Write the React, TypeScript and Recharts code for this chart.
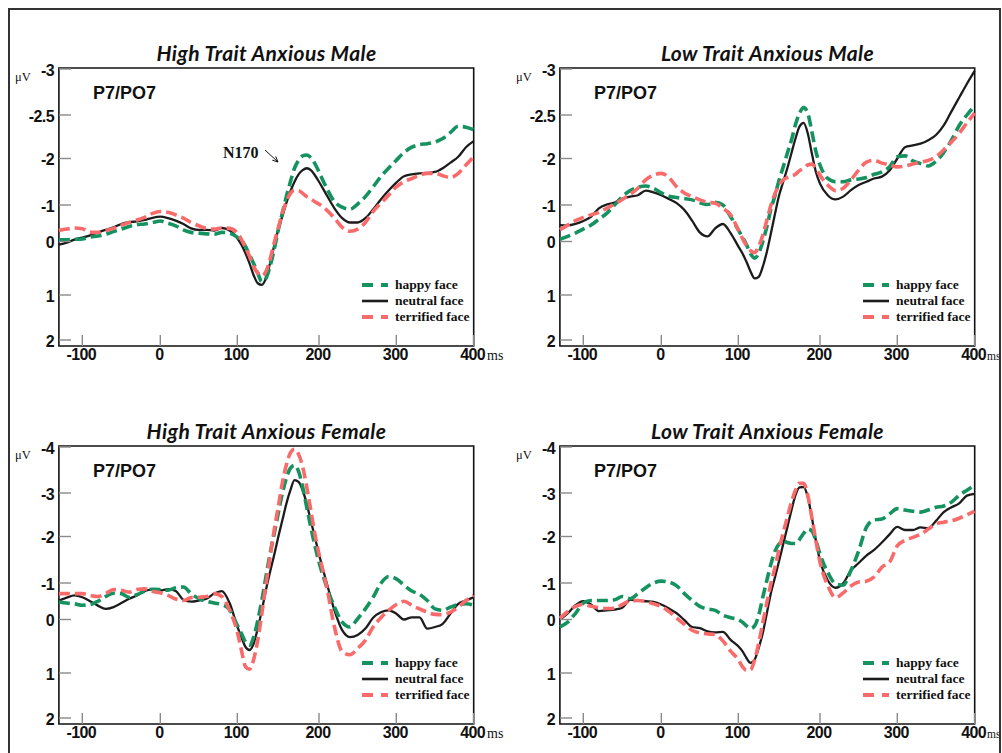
import React from 'react';
import { LineChart, Line, XAxis, YAxis, Legend, ReferenceArea } from 'recharts';

// ---------- data ----------
const TIMES = [
  -130, -120, -110, -100, -90, -80, -70, -60, -50, -40, -30, -20, -10, 0, 10, 20, 30, 40, 50, 60, 70, 80, 90, 100,
  105, 110, 115, 120, 125, 130, 135, 140, 145, 150, 155, 160, 165, 170, 175, 180, 185, 190, 195,
  200, 210, 220, 230, 240, 250, 260, 270, 280, 290, 300, 310, 320, 330, 340, 350, 360, 370, 380, 390, 400,
];
const X_TICKS = [-100, 0, 100, 200, 300, 400];
const Y_TICKS_MALE = [-3, -2.5, -2, -1, 0, 1, 2];
const Y_TICKS_FEMALE = [-4, -3, -2, -1, 0, 1, 2];

const HIGH_MALE_HAPPY = [
  -0.05, -0.05, -0.06, -0.07, -0.12, -0.15, -0.2, -0.27, -0.34, -0.41, -0.46, -0.48, -0.52, -0.56, -0.5, -0.43, -0.32, -0.25, -0.23, -0.21, -0.2, -0.25, -0.23, -0.12,
  -0.03, 0.09, 0.25, 0.41, 0.59, 0.75, 0.69, 0.47, 0.16, -0.3, -0.77, -1.18, -1.5, -1.79, -1.96, -2.03, -2.04, -2.01, -1.89,
  -1.71, -1.36, -1.07, -0.94, -0.88, -1.02, -1.18, -1.39, -1.61, -1.79, -1.96, -2.07, -2.13, -2.16, -2.17, -2.19, -2.23, -2.3, -2.37, -2.36, -2.33,
];
const HIGH_MALE_NEUTRAL = [
  0.06, 0.02, -0.05, -0.11, -0.17, -0.25, -0.32, -0.39, -0.48, -0.53, -0.55, -0.59, -0.65, -0.68, -0.64, -0.57, -0.48, -0.36, -0.32, -0.32, -0.3, -0.37, -0.3, -0.09,
  0.06, 0.22, 0.41, 0.63, 0.78, 0.81, 0.69, 0.41, 0.09, -0.32, -0.68, -1.04, -1.29, -1.5, -1.66, -1.75, -1.79, -1.75, -1.64,
  -1.5, -1.21, -0.91, -0.64, -0.52, -0.52, -0.64, -0.88, -1.12, -1.31, -1.48, -1.62, -1.66, -1.68, -1.69, -1.71, -1.79, -1.91, -2.02, -2.13, -2.2,
];
const HIGH_MALE_TERRIFIED = [
  -0.3, -0.34, -0.37, -0.35, -0.25, -0.25, -0.3, -0.36, -0.45, -0.52, -0.59, -0.66, -0.77, -0.82, -0.8, -0.73, -0.64, -0.52, -0.43, -0.36, -0.34, -0.37, -0.36, -0.23,
  -0.06, 0.11, 0.28, 0.47, 0.59, 0.64, 0.56, 0.34, 0.03, -0.36, -0.77, -1.07, -1.25, -1.32, -1.31, -1.25, -1.18, -1.13, -1.07,
  -1.02, -0.86, -0.64, -0.39, -0.28, -0.34, -0.52, -0.82, -1.04, -1.21, -1.39, -1.5, -1.57, -1.64, -1.68, -1.68, -1.63, -1.59, -1.68, -1.86, -2.02,
];

const LOW_MALE_HAPPY = [
  -0.06, -0.14, -0.23, -0.34, -0.45, -0.61, -0.77, -1.0, -1.18, -1.31, -1.38, -1.41, -1.36, -1.26, -1.19, -1.16, -1.14, -1.11, -1.05, -1.01, -1.06, -1.0, -0.68, -0.32,
  -0.12, 0.06, 0.23, 0.31, 0.22, 0.0, -0.41, -0.89, -1.21, -1.54, -1.82, -2.06, -2.21, -2.39, -2.52, -2.58, -2.52, -2.31, -2.08,
  -1.86, -1.57, -1.5, -1.5, -1.54, -1.56, -1.59, -1.66, -1.71, -1.82, -2.02, -2.03, -1.95, -1.89, -1.84, -1.94, -2.07, -2.21, -2.38, -2.5, -2.6,
];
const LOW_MALE_NEUTRAL = [
  -0.45, -0.44, -0.48, -0.56, -0.68, -0.91, -1.01, -1.05, -1.14, -1.18, -1.21, -1.31, -1.27, -1.21, -1.13, -1.04, -0.86, -0.57, -0.25, -0.14, -0.36, -0.48, -0.23, 0.09,
  0.22, 0.38, 0.56, 0.69, 0.66, 0.47, 0.19, -0.23, -0.77, -1.21, -1.5, -1.79, -2.06, -2.23, -2.37, -2.41, -2.29, -2.06, -1.71,
  -1.46, -1.21, -1.12, -1.18, -1.32, -1.43, -1.5, -1.57, -1.61, -1.74, -2.0, -2.13, -2.15, -2.17, -2.21, -2.27, -2.38, -2.54, -2.69, -2.84, -2.98,
];
const LOW_MALE_TERRIFIED = [
  -0.32, -0.45, -0.57, -0.66, -0.73, -0.8, -0.91, -1.02, -1.12, -1.23, -1.36, -1.54, -1.64, -1.68, -1.59, -1.39, -1.26, -1.18, -1.11, -1.06, -1.04, -0.91, -0.73, -0.32,
  -0.09, 0.08, 0.17, 0.21, 0.09, -0.18, -0.59, -1.0, -1.25, -1.43, -1.54, -1.59, -1.62, -1.66, -1.74, -1.79, -1.86, -1.88, -1.79,
  -1.64, -1.43, -1.31, -1.36, -1.54, -1.75, -1.92, -1.96, -1.9, -1.86, -1.82, -1.84, -1.88, -1.92, -1.96, -2.02, -2.1, -2.19, -2.29, -2.41, -2.52,
];

const HIGH_FEMALE_HAPPY = [
  -0.48, -0.45, -0.43, -0.39, -0.41, -0.5, -0.63, -0.72, -0.71, -0.61, -0.68, -0.78, -0.83, -0.82, -0.8, -0.87, -0.89, -0.71, -0.57, -0.5, -0.45, -0.41, -0.27, 0.11,
  0.26, 0.42, 0.48, 0.33, 0.02, -0.52, -1.13, -1.62, -2.05, -2.52, -2.98, -3.32, -3.54, -3.6, -3.47, -3.13, -2.67, -2.21, -1.8,
  -1.45, -0.89, -0.34, 0.05, 0.14, -0.02, -0.29, -0.61, -0.99, -1.14, -1.09, -0.94, -0.78, -0.69, -0.52, -0.29, -0.25, -0.34, -0.41, -0.43, -0.39,
];
const HIGH_FEMALE_NEUTRAL = [
  -0.52, -0.6, -0.66, -0.61, -0.5, -0.38, -0.29, -0.34, -0.45, -0.57, -0.66, -0.78, -0.82, -0.8, -0.83, -0.78, -0.54, -0.49, -0.52, -0.57, -0.71, -0.78, -0.45, 0.13,
  0.33, 0.51, 0.57, 0.45, 0.17, -0.25, -0.8, -1.23, -1.59, -1.98, -2.36, -2.75, -3.06, -3.28, -3.24, -3.06, -2.75, -2.36, -1.98,
  -1.62, -1.0, -0.25, 0.2, 0.33, 0.29, 0.17, -0.05, -0.2, -0.25, -0.16, 0.0, -0.06, -0.06, 0.17, 0.14, 0.08, -0.16, -0.43, -0.52, -0.61,
];
const HIGH_FEMALE_TERRIFIED = [
  -0.71, -0.71, -0.71, -0.71, -0.66, -0.63, -0.71, -0.82, -0.8, -0.75, -0.82, -0.84, -0.77, -0.73, -0.66, -0.56, -0.52, -0.6, -0.61, -0.63, -0.71, -0.63, -0.25, 0.23,
  0.57, 0.88, 0.93, 0.75, 0.39, -0.16, -0.94, -1.55, -2.13, -2.67, -3.21, -3.61, -3.87, -3.95, -3.84, -3.57, -3.13, -2.6, -2.05,
  -1.62, -0.89, 0.14, 0.6, 0.66, 0.54, 0.39, 0.14, -0.05, -0.25, -0.41, -0.5, -0.39, -0.29, -0.2, -0.14, -0.13, -0.2, -0.34, -0.52, -0.66,
];

const LOW_FEMALE_HAPPY = [
  0.14, 0.05, -0.17, -0.45, -0.52, -0.52, -0.52, -0.54, -0.63, -0.57, -0.71, -0.87, -1.0, -1.04, -1.02, -0.92, -0.71, -0.52, -0.36, -0.29, -0.25, -0.12, -0.05, 0.0,
  0.05, 0.12, 0.17, 0.12, -0.12, -0.61, -1.06, -1.41, -1.69, -1.84, -1.91, -1.87, -1.85, -1.85, -1.94, -2.07, -2.17, -2.13, -1.91,
  -1.62, -1.23, -0.98, -0.94, -1.27, -1.69, -2.21, -2.38, -2.4, -2.52, -2.64, -2.61, -2.58, -2.56, -2.61, -2.67, -2.7, -2.79, -2.95, -3.06, -3.17,
];
const LOW_FEMALE_NEUTRAL = [
  0.0, -0.17, -0.39, -0.5, -0.41, -0.23, -0.25, -0.27, -0.32, -0.54, -0.52, -0.5, -0.48, -0.41, -0.3, -0.17, 0.01, 0.14, 0.16, 0.22, 0.24, 0.23, 0.38, 0.5,
  0.59, 0.72, 0.81, 0.75, 0.53, 0.25, -0.18, -0.73, -1.13, -1.48, -1.84, -2.21, -2.6, -2.95, -3.12, -3.13, -2.91, -2.44, -1.91,
  -1.48, -1.06, -0.87, -0.99, -1.27, -1.43, -1.59, -1.71, -1.87, -2.05, -2.22, -2.15, -2.15, -2.21, -2.19, -2.36, -2.56, -2.67, -2.76, -2.94, -2.98,
];
const LOW_FEMALE_TERRIFIED = [
  -0.03, -0.22, -0.36, -0.41, -0.36, -0.32, -0.3, -0.31, -0.41, -0.51, -0.52, -0.49, -0.43, -0.36, -0.22, -0.04, 0.09, 0.2, 0.25, 0.27, 0.28, 0.4, 0.59, 0.75,
  0.88, 0.95, 0.94, 0.75, 0.44, 0.06, -0.46, -0.99, -1.34, -1.73, -2.09, -2.44, -2.79, -3.06, -3.21, -3.21, -2.95, -2.44, -1.91,
  -1.45, -0.94, -0.6, -0.73, -0.92, -1.02, -1.04, -1.13, -1.34, -1.45, -1.8, -1.92, -1.98, -2.05, -2.17, -2.29, -2.33, -2.36, -2.42, -2.5, -2.58,
];

// ---------- layout ----------
const CHART_W = 500;
const CHART_H = 377;
const PLOT_L = 59;
const PLOT_T = 68;
const PLOT_W = 415;
const PLOT_H = 278;
// pixel offsets of the printed axis ticks inside the plot (the printed axes are not evenly spaced)
const X_TICK_OFFSETS = [23.3, 101.3, 178.3, 260, 337.3, 414.7];
const Y_TICK_OFFSETS = [1, 47, 90.5, 137, 173.5, 227, 272];

const SERIES = [
  { key: 'neutral', name: 'neutral face', color: '#1c1c1c', width: 2.3, dash: undefined as string | undefined },
  { key: 'happy', name: 'happy face', color: '#14925f', width: 3.6, dash: '11 5' },
  { key: 'terrified', name: 'terrified face', color: '#f96b6b', width: 3.6, dash: '11 5' },
];
const LEGEND_ORDER = ['happy', 'neutral', 'terrified'];

// piecewise-linear scale through the printed tick positions
function makeWarpScale(vals: number[], offs: number[], span: number): any {
  let dom: number[] = [vals[0], vals[vals.length - 1]];
  let rng: number[] = [0, span];
  const n = vals.length;
  const pos = (v: number) => {
    let i = 0;
    while (i < n - 2 && v > vals[i + 1]) i++;
    const t = (v - vals[i]) / (vals[i + 1] - vals[i]);
    return offs[i] + t * (offs[i + 1] - offs[i]);
  };
  const scale: any = (v: any) => {
    const lo = Math.min(rng[0], rng[1]);
    const hi = Math.max(rng[0], rng[1]);
    return lo + (pos(Number(v)) / span) * (hi - lo);
  };
  scale.domain = function (d?: any) {
    if (d === undefined) return dom.slice();
    dom = Array.from(d, (x: any) => Number(x));
    return scale;
  };
  scale.range = function (r?: any) {
    if (r === undefined) return rng.slice();
    rng = Array.from(r, (x: any) => Number(x));
    return scale;
  };
  scale.copy = () => makeWarpScale(vals, offs, span).domain(dom).range(rng);
  scale.ticks = () => vals.slice();
  scale.tickFormat = () => (v: any) => String(v);
  scale.nice = () => scale;
  scale.clamp = () => scale;
  scale.invert = (px: number) => {
    const lo = Math.min(rng[0], rng[1]);
    const hi = Math.max(rng[0], rng[1]);
    const o = ((px - lo) / (hi - lo || 1)) * span;
    let i = 0;
    while (i < n - 2 && o > offs[i + 1]) i++;
    const t = (o - offs[i]) / (offs[i + 1] - offs[i]);
    return vals[i] + t * (vals[i + 1] - vals[i]);
  };
  return scale;
}

const X_DOMAIN = [-130, 400];
const Y_DOMAIN_MALE = [-3.011, 2.133];
const Y_DOMAIN_FEMALE = [-4.022, 2.133];

const PANEL_DEFS = [
  { id: 'hm', left: 0, top: 0, title: 'High Trait Anxious Male', yTicks: Y_TICKS_MALE, yDomain: Y_DOMAIN_MALE,
    happy: HIGH_MALE_HAPPY, neutral: HIGH_MALE_NEUTRAL, terrified: HIGH_MALE_TERRIFIED, n170: true, right: false },
  { id: 'lm', left: 501, top: 0, title: 'Low Trait Anxious Male', yTicks: Y_TICKS_MALE, yDomain: Y_DOMAIN_MALE,
    happy: LOW_MALE_HAPPY, neutral: LOW_MALE_NEUTRAL, terrified: LOW_MALE_TERRIFIED, n170: false, right: true },
  { id: 'hf', left: 0, top: 378, title: 'High Trait Anxious Female', yTicks: Y_TICKS_FEMALE, yDomain: Y_DOMAIN_FEMALE,
    happy: HIGH_FEMALE_HAPPY, neutral: HIGH_FEMALE_NEUTRAL, terrified: HIGH_FEMALE_TERRIFIED, n170: false, right: false },
  { id: 'lf', left: 501, top: 378, title: 'Low Trait Anxious Female', yTicks: Y_TICKS_FEMALE, yDomain: Y_DOMAIN_FEMALE,
    happy: LOW_FEMALE_HAPPY, neutral: LOW_FEMALE_NEUTRAL, terrified: LOW_FEMALE_TERRIFIED, n170: false, right: true },
];

const PANELS = PANEL_DEFS.map((p) => ({
  ...p,
  data: TIMES.map((t, i) => ({ t, happy: p.happy[i], neutral: p.neutral[i], terrified: p.terrified[i] })),
  xScale: makeWarpScale(X_TICKS, X_TICK_OFFSETS, PLOT_W),
  yScale: makeWarpScale(p.yTicks, Y_TICK_OFFSETS, PLOT_H),
}));

const TICK_FONT = '"Liberation Sans", Arial, sans-serif';
const SERIF = '"Liberation Serif", "Times New Roman", serif';

const renderXTick = (props: any) => {
  const { x, payload } = props;
  const bottom = PLOT_T + PLOT_H;
  return (
    <g>
      <line x1={x} x2={x} y1={bottom} y2={bottom - 11} stroke="#8a8a8a" strokeWidth={1.4} />
      <text x={x - 1} y={bottom + 14} textAnchor="middle" fontFamily={TICK_FONT} fontWeight="bold" fontSize={16} letterSpacing={-0.6} fill="#111">
        {payload.value}
      </text>
    </g>
  );
};

const renderYTick = (props: any) => {
  const { y, payload } = props;
  return (
    <g>
      <line x1={PLOT_L} x2={PLOT_L + 12} y1={y} y2={y} stroke="#8a8a8a" strokeWidth={1.4} />
      <text x={PLOT_L - 5} y={y + 1} dy="0.36em" textAnchor="end" fontFamily={TICK_FONT} fontWeight="bold" fontSize={16} letterSpacing={-0.6} fill="#111">
        {payload.value}
      </text>
    </g>
  );
};

const renderLegend = () => (
  <div style={{ display: 'flex', flexDirection: 'column' }}>
    {LEGEND_ORDER.map((k) => {
      const s = SERIES.find((x) => x.key === k)!;
      return (
        <div key={k} style={{ display: 'flex', alignItems: 'center', height: 16 }}>
          <svg width={26} height={8} style={{ display: 'block' }}>
            <line x1={0} x2={26} y1={4} y2={4} stroke={s.color} strokeWidth={s.dash ? 4 : 2.6}
              strokeDasharray={s.dash ? '11 8' : undefined} />
          </svg>
          <span style={{ marginLeft: 7, fontFamily: SERIF, fontWeight: 'bold', fontSize: 13.5, color: '#111', whiteSpace: 'nowrap', lineHeight: '16px' }}>
            {s.name}
          </span>
        </div>
      );
    })}
  </div>
);

function Panel({ p }: { p: (typeof PANELS)[number] }) {
  return (
    <div style={{ position: 'absolute', left: p.left, top: p.top, width: CHART_W, height: CHART_H }}>
      <div style={{ position: 'absolute', left: PLOT_L - 10, top: 41, width: PLOT_W + 20, textAlign: 'center', fontFamily: 'Lato, "Open Sans", sans-serif',
        fontStyle: 'italic', fontWeight: 'bold', fontSize: 21, letterSpacing: 0.4, lineHeight: '24px', color: '#111', whiteSpace: 'nowrap' }}>
        {p.title}
      </div>
      <LineChart width={CHART_W} height={CHART_H} data={p.data}
        margin={{ top: PLOT_T, left: PLOT_L - 1, right: CHART_W - PLOT_L - PLOT_W, bottom: CHART_H - PLOT_T - PLOT_H - 1 }}>
        <XAxis dataKey="t" type="number" scale={p.xScale} domain={X_DOMAIN} ticks={X_TICKS} interval={0} height={1}
          tickLine={false} axisLine={false} tick={renderXTick} />
        <YAxis type="number" scale={p.yScale} domain={p.yDomain} ticks={p.yTicks} interval={0} width={1}
          tickLine={false} axisLine={false} tick={renderYTick} />
        <ReferenceArea x1={X_DOMAIN[0]} x2={X_DOMAIN[1]} y1={p.yDomain[0]} y2={p.yDomain[1]} fill="none" fillOpacity={0}
          stroke="#111" strokeWidth={1.6} ifOverflow="visible" />
        {SERIES.map((s) => (
          <Line key={s.key} dataKey={s.key} name={s.name} type="monotone" stroke={s.color} strokeWidth={s.width}
            strokeDasharray={s.dash} dot={false} activeDot={false} isAnimationActive={false} />
        ))}
        <Legend layout="vertical" align="center" verticalAlign="middle" content={renderLegend}
          wrapperStyle={{ left: PLOT_L + 303, top: PLOT_T + 209, width: 130, height: 50 }} />
      </LineChart>
      <svg width={CHART_W} height={CHART_H} style={{ position: 'absolute', left: 0, top: 0, pointerEvents: 'none', overflow: 'visible' }}>
        <text x={PLOT_L + 34} y={PLOT_T + 30.5} fontFamily={TICK_FONT} fontWeight="bold" fontSize={18} fill="#111">P7/PO7</text>
        <text x={15} y={PLOT_T + 13} fontFamily={SERIF} fontSize={12.5} fill="#111">μV</text>
        <text x={PLOT_L + PLOT_W + (p.right ? 12 : 13)} y={PLOT_T + PLOT_H + 14} fontFamily={SERIF} fontSize={p.right ? 11.5 : 14} fill="#111">ms</text>
        {p.n170 && (
          <g>
            <text x={223} y={157.5} fontFamily={SERIF} fontWeight="bold" fontSize={16} fill="#111">N170</text>
            <line x1={265} y1={150} x2={278} y2={162} stroke="#111" strokeWidth={1} />
            <polyline points="275.7,156.4 278,162 272.3,160.2" fill="none" stroke="#111" strokeWidth={1} />
          </g>
        )}
      </svg>
    </div>
  );
}

export default function App() {
  return (
    <div style={{ position: 'absolute', left: 0, top: 0, width: 1002, height: 753, overflow: 'hidden', background: '#fff' }}>
      {PANELS.map((p) => (
        <Panel key={p.id} p={p} />
      ))}
      <div style={{ position: 'absolute', left: 8, top: 8, width: 993, height: 800, border: '2px solid #333', boxSizing: 'border-box', pointerEvents: 'none' }} />
    </div>
  );
}
